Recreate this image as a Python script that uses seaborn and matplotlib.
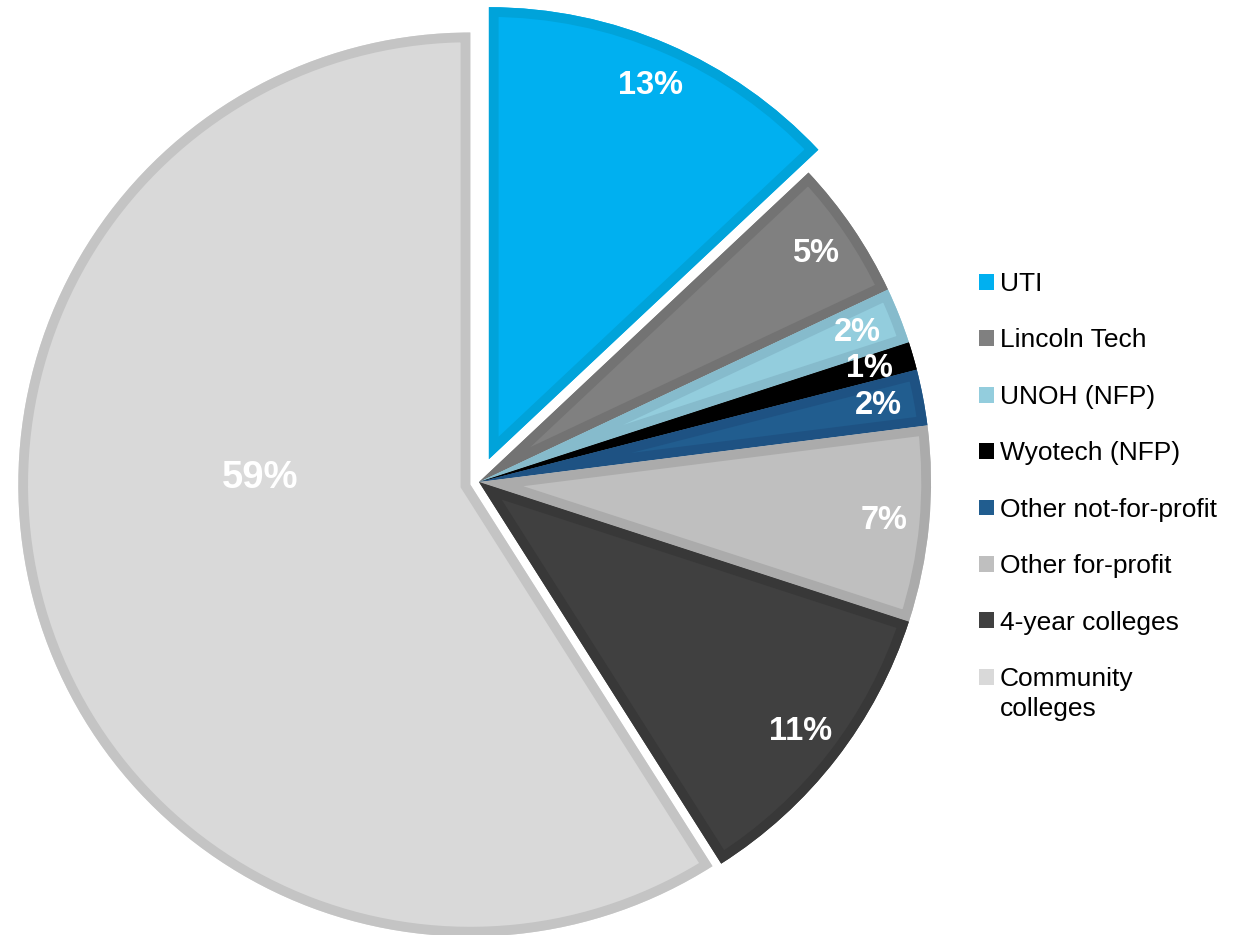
"""Pie chart: share of automotive technician program completers by school type."""
import matplotlib
matplotlib.use("Agg")
import matplotlib.pyplot as plt
from matplotlib.patches import Wedge
import seaborn as sns

categories = ["UTI", "Lincoln Tech", "UNOH (NFP)", "Wyotech (NFP)",
              "Other not-for-profit", "Other for-profit", "4-year colleges",
              "Community", "colleges"]  # last entry wraps onto a second line
shares = [13, 5, 2, 1, 2, 7, 11, 59]
fill_colors = ["#00B0F0", "#808080", "#93CDDD", "#000000",
               "#215D8F", "#BFBFBF", "#404040", "#D9D9D9"]
edge_colors = ["#00A3DA", "#737373", "#86BBCC", "#000000",
               "#1E5283", "#ABABAB", "#383838", "#C4C4C4"]
explode = [0.055, 0, 0, 0, 0, 0, 0, 0.02]

sns.set_theme(style="white")
plt.rcParams["font.family"] = ["Liberation Sans", "DejaVu Sans"]


def main():
    W, H, dpi = 1240, 935, 100
    fig = plt.figure(figsize=(W / dpi, H / dpi), dpi=dpi)
    ax = fig.add_axes([0, 0, 1, 1])

    cx, cy, r = 479, 482, 452  # pie centre / radius in pixels
    wedges, _, pct = ax.pie(
        shares, colors=fill_colors, explode=explode, startangle=90,
        counterclock=False, autopct=lambda p: f"{p:.0f}%", pctdistance=0.9,
        wedgeprops=dict(linewidth=0),
        textprops=dict(color="white", fontsize=23.5, fontweight="bold"),
    )

    # darker inner border on each slice
    for w, ec in zip(wedges, edge_colors):
        b = Wedge(w.center, w.r, w.theta1, w.theta2, facecolor="none",
                  edgecolor=ec, linewidth=14, joinstyle="miter")
        ax.add_patch(b)
        b.set_clip_path(w)

    # the big slice label sits left of centre, a bit larger
    pct[-1].set_position((-0.485, 0.009))
    pct[-1].set_fontsize(27.5)

    ax.set_xlim(-cx / r, (W - cx) / r)
    ax.set_ylim(-(H - cy) / r, cy / r)
    ax.set_aspect("equal", adjustable="box")
    ax.axis("off")

    leg = ax.legend(
        wedges, categories[:-1], loc="upper left",
        bbox_to_anchor=(979 / W, 1 - 272 / H), bbox_transform=fig.transFigure,
        frameon=False, fontsize=19, handlelength=0.55, handleheight=0.55,
        handletextpad=0.25, labelspacing=1.23, borderpad=0, borderaxespad=0,
    )
    for t in leg.get_texts():
        t.set_color("black")

    # second line of the last legend entry
    fig.canvas.draw()
    last = leg.get_texts()[-1].get_window_extent()
    fig.text(last.x0 / W, (last.y0 - 30) / H, categories[-1], fontsize=19,
             color="black", ha="left", va="bottom")

    fig.savefig("out.png", dpi=dpi, facecolor="white")
    plt.close(fig)


if __name__ == "__main__":
    main()
